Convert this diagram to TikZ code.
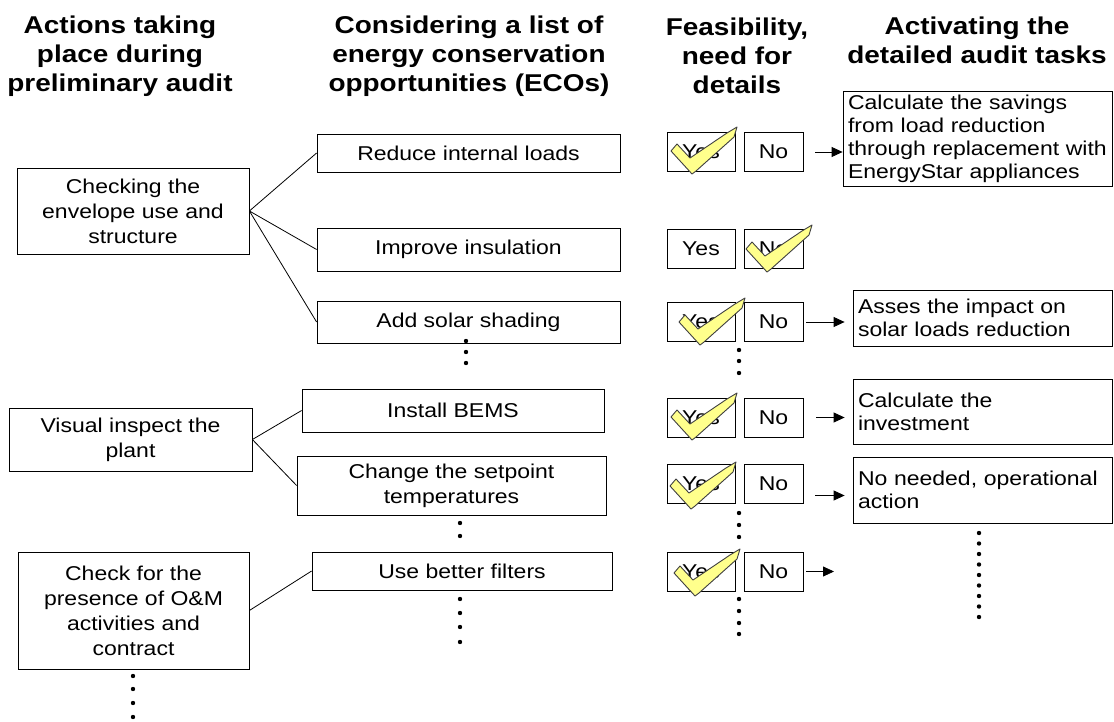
\documentclass[tikz,border=0pt]{standalone}
\usepackage{fontspec}
\setmainfont{Liberation Sans}[FakeStretch=1.15]
\usetikzlibrary{arrows.meta}

\definecolor{tickyellow}{RGB}{255,255,140}

\tikzset{
  checkmark/.pic={
    \filldraw[fill=tickyellow,draw=black!75,line width=0.9,line join=round]
    (0,2) -- (-21,-21) -- (-15,-28) -- (-2,-14) -- (35,-39) -- (45,-45)
    -- (42,-35) -- (4,-1) -- cycle;
  }
}

\begin{document}
\begin{tikzpicture}[x=1pt,y=-1pt,
    every node/.style={font=\fontsize{20}{25}\selectfont},
    headline/.style={font=\bfseries\fontsize{24.3}{29}\selectfont,align=center},
    auditbox/.style={draw=black,line width=0.8,align=center,inner sep=0pt},
    ecobox/.style={draw=black,line width=0.8,align=center,inner sep=0pt},
    answerbox/.style={draw=black,line width=0.8,inner sep=0pt,minimum height=39pt},
    taskbox/.style={draw=black,line width=0.8,align=left,inner xsep=5pt,inner ysep=0pt,
      font=\fontsize{20}{23}\selectfont},
    conn/.style={-{Triangle[length=11pt,width=10pt]},line width=0.8}]

    \useasboundingbox (0,0) rectangle (1114,722);

    \node[headline] (h1) at (120,56) {Actions taking\\place during\\preliminary audit};
    \node[headline] (h2) at (469,56) {Considering a list of\\energy conservation\\opportunities (ECOs)};
    \node[headline] (h3) at (737,56) {Feasibility,\\need for\\details};
    \node[headline] (h4) at (977,40) {Activating the\\detailed audit tasks};



    \node[auditbox,minimum width=232pt,minimum height=86pt] (c1) at (133,211)
    {Checking the\\envelope use and\\structure};

    \node[auditbox,minimum width=243pt,minimum height=63pt] (c2) at (130.5,439.5)
    {Visual inspect the\\plant};

    \node[auditbox,minimum width=231pt,minimum height=117pt] (c3) at (133.5,610.5)
    {Check for the\\presence of O\&M\\activities and\\contract};



    \node[ecobox,minimum width=303pt,minimum height=38pt] (e1) at (468.5,153) {Reduce internal loads};
    \node[ecobox,minimum width=303pt,minimum height=43pt] (e2) at (468.5,249.5) {Improve insulation};
    \node[ecobox,minimum width=303pt,minimum height=42pt] (e3) at (468.5,322) {Add solar shading};
    \node[ecobox,minimum width=302pt,minimum height=43pt] (e4) at (453,410.5) {Install BEMS};
    \node[ecobox,minimum width=309pt,minimum height=59pt] (e5) at (451.5,485.5)
    {Change the setpoint\\temperatures};
    \node[ecobox,minimum width=300pt,minimum height=38pt] (e6) at (462,571) {Use better filters};

    \draw[line width=0.8] (c1.east) -- (e1.west);
    \draw[line width=0.8] (c1.east) -- (e2.west);
    \draw[line width=0.8] (c1.east) -- (e3.west);
    \draw[line width=0.8] (c2.east) -- (e4.west);
    \draw[line width=0.8] (c2.east) -- (e5.west);
    \draw[line width=0.8] (c3.east) -- (e6.west);



    \node[answerbox,minimum width=68pt] (yes1) at (701,152) {Yes};
    \node[answerbox,minimum width=59pt] (no1) at (773.5,152) {No};
    \node[answerbox,minimum width=68pt] (yes2) at (701,248.5) {Yes};
    \node[answerbox,minimum width=59pt] (no2) at (773.5,248.5) {No};
    \node[answerbox,minimum width=68pt] (yes3) at (701,322) {Yes};
    \node[answerbox,minimum width=59pt] (no3) at (773.5,322) {No};
    \node[answerbox,minimum width=68pt] (yes4) at (701,417.5) {Yes};
    \node[answerbox,minimum width=59pt] (no4) at (773.5,417.5) {No};
    \node[answerbox,minimum width=68pt] (yes5) at (701,483.5) {Yes};
    \node[answerbox,minimum width=59pt] (no5) at (773.5,483.5) {No};
    \node[answerbox,minimum width=68pt] (yes6) at (701,571.5) {Yes};
    \node[answerbox,minimum width=59pt] (no6) at (773.5,571.5) {No};

    \pic at (692,172) {checkmark};
    \pic at (767,270) {checkmark};
    \pic at (700,343) {checkmark};
    \pic at (692,438) {checkmark};
    \pic at (691,507) {checkmark};
    \pic at (695,594) {checkmark};



    \node[taskbox,minimum width=269pt,minimum height=95pt,text width=259pt] (t1) at (977.5,138.5)
    {Calculate the savings\\from load reduction\\through replacement with\\EnergyStar appliances};

    \node[taskbox,minimum width=259pt,minimum height=56pt,text width=249pt] (t2) at (982.5,318)
    {Asses the impact on\\solar loads reduction};

    \node[taskbox,minimum width=259pt,minimum height=65pt,text width=249pt] (t3) at (982.5,411.5)
    {Calculate the\\investment};

    \node[taskbox,minimum width=259pt,minimum height=66pt,text width=249pt] (t4) at (982.5,490)
    {No needed, operational\\action};

    \coordinate (free6) at (834,571.5);

    \draw[conn,shorten <=12pt] (no1.east) -- (no1.east -| t1.west);
    \draw[conn,shorten <=3pt,shorten >=8pt] (no3.east) -- (no3.east -| t2.west);
    \draw[conn,shorten <=13pt,shorten >=8pt] (no4.east) -- (no4.east -| t3.west);
    \draw[conn,shorten <=12pt,shorten >=8pt] ([yshift=-12pt]no5.east) -- ([yshift=-12pt]no5.east -| t4.west);
    \draw[conn,shorten <=3pt] (no6.east) -- (free6);



    \foreach \y in {676,689,703,717} \fill (133,\y) circle (2.2pt);
    \foreach \y in {341,352,363} \fill (466,\y) circle (2.2pt);
    \foreach \y in {523,536} \fill (460,\y) circle (2.2pt);
    \foreach \y in {599,613,627,642} \fill (460,\y) circle (2.2pt);
    \foreach \y in {350,361,373,513,525,537,599,611,623,634} \fill (739,\y) circle (2.2pt);
    \foreach \y in {533,543.5,554,564.5,575,585.5,596,606.5,617} \fill (979,\y) circle (2.2pt);

  \end{tikzpicture}
\end{document}
